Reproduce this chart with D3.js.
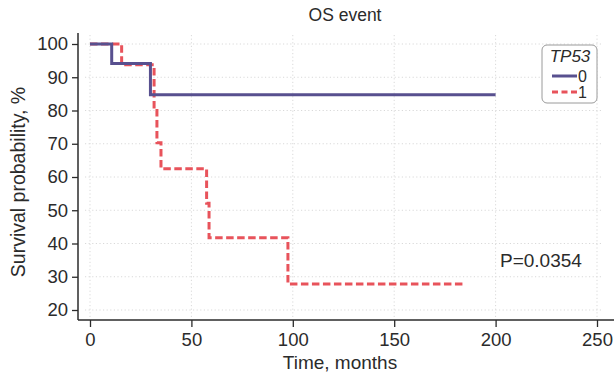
<!DOCTYPE html>
<html>
<head>
<meta charset="utf-8">
<script src="https://cdn.jsdelivr.net/npm/d3@7"></script>
<style>
  html, body { margin: 0; padding: 0; background: #fff; }
  svg { display: block; font-family: "Liberation Sans", Arial, Helvetica, sans-serif; }
</style>
</head>
<body>
<svg id="chart" width="614" height="377"></svg>
<script>
// Kaplan-Meier steps
const groups = ['0', '1'];
const timesTp0 = [0, 10.7, 29.8, 200];
const survTp0 = [100, 94.1, 84.7, 84.7];
const timesTp1 = [0, 15.6, 31.6, 33, 35, 57.5, 58.7, 97.6, 184];
const survTp1 = [100, 93.75, 80, 70.3, 62.5, 52.1, 41.7, 27.8, 27.8];
const xTicks = [0, 50, 100, 150, 200, 250];
const yTicks = [20, 30, 40, 50, 60, 70, 80, 90, 100];
const pLabel = 'P=0.0354';

const colors = { '0': '#58508f', '1': '#e8535b' };
const ink = '#2b2b2b';

const svg = d3.select('#chart');

const x = d3.scaleLinear().domain([0, 250]).range([90, 597]);
const y = d3.scaleLinear().domain([20, 100]).range([310, 44]);

// panel extents (axes are drawn a bit past the data range)
const panel = { left: 78, right: 614, top: 33, bottom: 320 };

// grid
const grid = svg.append('g').attr('class', 'grid')
  .attr('stroke', '#d9d9d9')
  .attr('stroke-width', 1)
  .attr('stroke-dasharray', '1.2,2.4');

grid.selectAll('.gy')
  .data(yTicks)
  .enter()
    .append('line')
    .attr('x1', panel.left + 7)
    .attr('x2', 602)
    .attr('y1', d => y(d))
    .attr('y2', d => y(d));

grid.selectAll('.gx')
  .data(xTicks)
  .enter()
    .append('line')
    .attr('x1', d => x(d))
    .attr('x2', d => x(d))
    .attr('y1', panel.top + 2)
    .attr('y2', panel.bottom - 2);

// curves
const line = d3.line()
  .x(d => x(d[0]))
  .y(d => y(d[1]))
  .curve(d3.curveStepAfter);

svg.append('path')
  .datum(d3.zip(timesTp1, survTp1))
  .attr('fill', 'none')
  .attr('stroke', colors['1'])
  .attr('stroke-width', 3)
  .attr('stroke-dasharray', '7.5,3.5')
  .attr('d', line);

svg.append('path')
  .datum(d3.zip(timesTp0, survTp0))
  .attr('fill', 'none')
  .attr('stroke', colors['0'])
  .attr('stroke-width', 3)
  .attr('d', line);

// axes
const yAxis = svg.append('g')
  .attr('transform', `translate(${panel.left},0)`)
  .call(d3.axisLeft(y).tickValues(yTicks).tickSize(6).tickPadding(4));

const xAxis = svg.append('g')
  .attr('transform', `translate(0,${panel.bottom})`)
  .call(d3.axisBottom(x).tickValues(xTicks).tickSize(7).tickPadding(6));

[yAxis, xAxis].forEach(g => {
  g.select('.domain').remove();
  g.selectAll('line').attr('stroke', ink).attr('stroke-width', 1.3);
  g.selectAll('text')
    .attr('fill', ink)
    .style('font-size', '18.5px')
    .style('font-family', '"Liberation Sans", Arial, sans-serif');
});

svg.append('line')
  .attr('x1', panel.left).attr('x2', panel.left)
  .attr('y1', panel.top).attr('y2', panel.bottom)
  .attr('stroke', ink).attr('stroke-width', 1.5);

svg.append('line')
  .attr('x1', panel.left).attr('x2', panel.right)
  .attr('y1', panel.bottom).attr('y2', panel.bottom)
  .attr('stroke', ink).attr('stroke-width', 1.5);

// titles
svg.append('text')
  .attr('x', 345).attr('y', 21)
  .attr('text-anchor', 'middle')
  .attr('fill', ink)
  .style('font-size', '17.5px')
  .text('OS event');

svg.append('text')
  .attr('x', 340).attr('y', 369)
  .attr('text-anchor', 'middle')
  .attr('fill', ink)
  .style('font-size', '19px')
  .text('Time, months');

svg.append('text')
  .attr('transform', 'translate(25,182) rotate(-90)')
  .attr('text-anchor', 'middle')
  .attr('fill', ink)
  .style('font-size', '19.5px')
  .text('Survival probability, %');

svg.append('text')
  .attr('x', 500).attr('y', 267)
  .attr('fill', ink)
  .style('font-size', '19px')
  .text(pLabel);

// legend
const legend = svg.append('g').attr('transform', 'translate(542,45)');

legend.append('rect')
  .attr('width', 55).attr('height', 58)
  .attr('rx', 5)
  .attr('fill', '#fff')
  .attr('stroke', '#9a9a9a')
  .attr('stroke-width', 1);

legend.append('text')
  .attr('x', 28).attr('y', 17)
  .attr('text-anchor', 'middle')
  .attr('fill', ink)
  .style('font-size', '17px')
  .style('font-style', 'italic')
  .text('TP53');

const item = legend.selectAll('.item')
  .data(groups)
  .enter()
    .append('g')
    .attr('class', 'item')
    .attr('transform', (d, i) => `translate(0,${31 + i * 16})`);

item.append('line')
  .attr('x1', 10).attr('x2', 35)
  .attr('stroke', d => colors[d])
  .attr('stroke-width', 3)
  .attr('stroke-dasharray', d => d === '1' ? '6,3.5' : null);

item.append('text')
  .attr('x', 36).attr('y', 6)
  .attr('fill', ink)
  .style('font-size', '16px')
  .text(d => d);
</script>
</body>
</html>
